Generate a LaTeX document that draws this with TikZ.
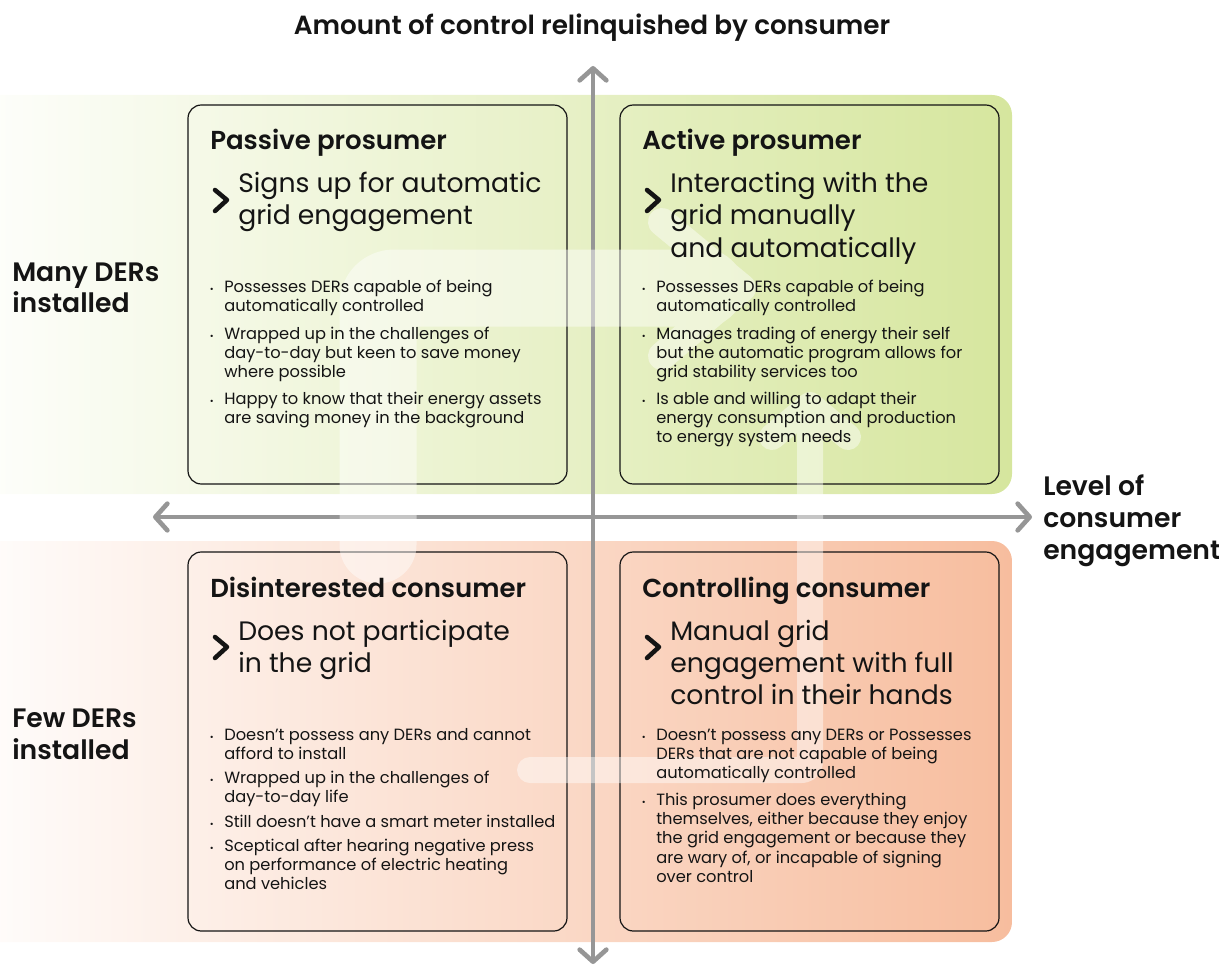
\documentclass[tikz,border=0pt]{standalone}
\usepackage{fontspec}
\setmainfont{Poppins}
\newfontfamily\headfont{Poppins SemiBold}
\usetikzlibrary{arrows.meta}

\definecolor{leafgreen}{RGB}{214,230,158}
\definecolor{peach}{RGB}{247,189,158}
\definecolor{axisgray}{RGB}{150,150,150}
\definecolor{ink}{RGB}{20,20,20}

\tikzset{
  quadbox/.style={draw=ink, line width=0.9pt, rounded corners=10pt},
  boxtitle/.style={anchor=base west, inner sep=0pt, text=ink, font=\headfont\fontsize{19.5}{23}\selectfont},
  boxsub/.style={anchor=base west, inner sep=0pt, text=ink, font=\fontsize{20}{24}\selectfont},
  boxitem/.style={anchor=base west, inner sep=0pt, text=ink, font=\fontsize{12.2}{14.6}\selectfont},
  sidelabel/.style={anchor=base west, inner sep=0pt, text=ink, font=\headfont\fontsize{20}{23.5}\selectfont},
  axis/.style={draw=axisgray, line width=3.5pt, {Straight Barb[length=9pt,width=20pt,round]}-{Straight Barb[length=9pt,width=20pt,round]}},
  chevron/.style={draw=ink, line width=3.4pt, line cap=round, line join=round},
  glow/.style={draw=white, line cap=round, line join=round},
}
\newcommand{\bul}{\llap{{\fontsize{7}{7}\selectfont\textbullet}\hspace{8pt}}}
\newcommand{\linesof}[1]{\begin{tabular}[t]{@{}l@{}}#1\end{tabular}}

\begin{document}
\begin{tikzpicture}[x=0.75pt, y=-0.75pt]
  \useasboundingbox (0,0) rectangle (1219,966);

  % Background bands
  \shade[left color=white, right color=leafgreen, rounded corners=15pt] (-60,95) rectangle (1012,494);
  \shade[left color=white, right color=peach, rounded corners=15pt] (-60,541) rectangle (1012,942);

  % Axes
  \coordinate (ytop) at (593,66);
  \coordinate (ybot) at (593,964);
  \coordinate (xleft) at (153,517);
  \coordinate (xright) at (1032,517);
  \draw[axis] (ybot) -- (ytop);
  \draw[axis] (xleft) -- (xright);

  % Quadrant frames
  \draw[quadbox] (188,105) rectangle (567,484);
  \draw[quadbox] (620,105) rectangle (999,484);
  \draw[quadbox] (188,552) rectangle (567,931);
  \draw[quadbox] (620,552) rectangle (999,931);

  % Faint cycle arrows
  \begin{scope}[transparency group, opacity=0.45]
    \draw[glow, line width=57.75pt, rounded corners=12pt] (378,545) -- (378,288) -- (705,288);
    \draw[glow, line width=21pt] (662,222) -- (742,288) -- (662,356);
    \draw[glow, line width=19.5pt, rounded corners=6pt] (530,770) -- (810,770) -- (810,410);
    \draw[glow, line width=19.5pt] (772,437) -- (810,405) -- (848,437);
  \end{scope}

  % Axis labels
  \node[font=\headfont\fontsize{19.7}{23}\selectfont, text=ink] (ylabel) at (592,28) {Amount of control relinquished by consumer};
  \node[sidelabel] (many) at (12,281) {\linesof{Many DERs\\installed}};
  \node[sidelabel, font=\headfont\fontsize{20}{24}\selectfont] (few) at (12,727) {\linesof{Few DERs\\installed}};
  \node[sidelabel, font=\headfont\fontsize{20}{24}\selectfont] (xlabel) at (1043,495) {\linesof{Level of\\consumer\\engagement}};

  % Passive prosumer
  \node[boxtitle] (pp-title) at (210,150) {Passive prosumer};
  \draw[chevron] (215,190) -- (227,200) -- (215,211);
  \node[boxsub] (pp-sub) at (238,193) {\linesof{Signs up for automatic\\grid engagement}};
  \node[boxitem] (pp-1) at (224,292) {\linesof{\bul Possesses DERs capable of being\\automatically controlled}};
  \node[boxitem] (pp-2) at (224,339) {\linesof{\bul Wrapped up in the challenges of\\day-to-day but keen to save money\\where possible}};
  \node[boxitem] (pp-3) at (224,404) {\linesof{\bul Happy to know that their energy assets\\are saving money in the background}};

  % Active prosumer
  \begin{scope}[shift={(432,0)}]
    \node[boxtitle] (ap-title) at (210,150) {Active prosumer};
    \draw[chevron] (215,190) -- (227,200) -- (215,211);
    \node[boxsub] (ap-sub) at (238,193) {\linesof{Interacting with the\\grid manually\\and automatically}};
    \node[boxitem] (ap-1) at (224,292) {\linesof{\bul Possesses DERs capable of being\\automatically controlled}};
    \node[boxitem] (ap-2) at (224,339) {\linesof{\bul Manages trading of energy their self\\but the automatic program allows for\\grid stability services too}};
    \node[boxitem] (ap-3) at (224,404) {\linesof{\bul Is able and willing to adapt their\\energy consumption and production\\to energy system needs}};
  \end{scope}

  % Disinterested consumer
  \begin{scope}[shift={(0,447)}]
    \node[boxtitle] (dc-title) at (210,150) {Disinterested consumer};
    \draw[chevron] (215,190) -- (227,200) -- (215,211);
    \node[boxsub] (dc-sub) at (238,193) {\linesof{Does not participate\\in the grid}};
    \node[boxitem] (dc-1) at (224,293) {\linesof{\bul Doesn’t possess any DERs and cannot\\afford to install}};
    \node[boxitem] (dc-2) at (224,336) {\linesof{\bul Wrapped up in the challenges of\\day-to-day life}};
    \node[boxitem] (dc-3) at (224,380) {\linesof{\bul Still doesn’t have a smart meter installed}};
    \node[boxitem] (dc-4) at (224,404) {\linesof{\bul Sceptical after hearing negative press\\on performance of electric heating\\and vehicles}};
  \end{scope}

  % Controlling consumer
  \begin{scope}[shift={(432,447)}]
    \node[boxtitle] (cc-title) at (210,150) {Controlling consumer};
    \draw[chevron] (215,190) -- (227,200) -- (215,211);
    \node[boxsub] (cc-sub) at (238,193) {\linesof{Manual grid\\engagement with full\\control in their hands}};
    \node[boxitem] (cc-1) at (224,293) {\linesof{\bul Doesn’t possess any DERs or Possesses\\DERs that are not capable of being\\automatically controlled}};
    \node[boxitem] (cc-2) at (224,358) {\linesof{\bul This prosumer does everything\\themselves, either because they enjoy\\the grid engagement or because they\\are wary of, or incapable of signing\\over control}};
  \end{scope}
\end{tikzpicture}
\end{document}
